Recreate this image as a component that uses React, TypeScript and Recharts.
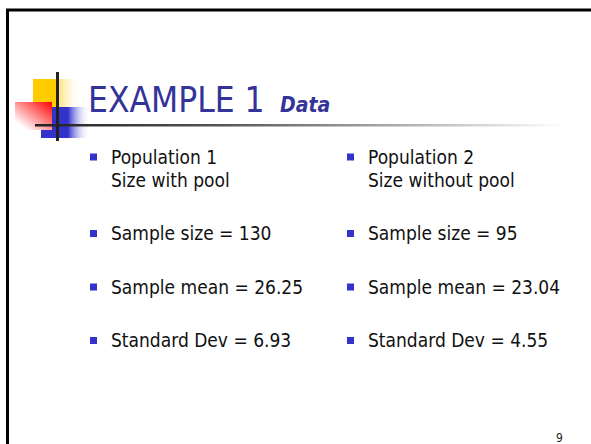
import { ScatterChart, Scatter, XAxis, YAxis, Customized } from "recharts";

const columns = [0, 1];
const populations = ["Population 1", "Population 2"];
const poolNotes = ["Size with pool", "Size without pool"];
const sampleSizes = [130, 95];
const sampleMeans = [26.25, 23.04];
const standardDevs = [6.93, 4.55];
const titleText = "EXAMPLE 1";
const subtitleText = "Data";
const pageNumber = "9";

const FONT = "Tahoma, 'DejaVu Sans Condensed', 'DejaVu Sans', sans-serif";
const LINE_H = 23;
const PARA_GAP = 53.5;

type Item = { col: number; pos: number; lines: string[] };

const buildItems = (): Item[] => {
  const items: Item[] = [];
  columns.forEach((c) => {
    const rows = [
      [populations[c], poolNotes[c]],
      [`Sample size = ${sampleSizes[c]}`],
      [`Sample mean = ${sampleMeans[c].toFixed(2)}`],
      [`Standard Dev = ${standardDevs[c].toFixed(2)}`],
    ];
    let pos = 0;
    rows.forEach((lines) => {
      items.push({ col: c, pos, lines });
      pos += (lines.length - 1) * LINE_H + PARA_GAP;
    });
  });
  return items;
};

const items = buildItems();
const maxPos = Math.max(...items.map((d) => d.pos));

const Bullet = (props: any) => {
  const { cx, cy, payload } = props;
  return (
    <g>
      <rect x={cx - 3.5} y={cy - 3.5} width={7} height={7} fill="#3333cc" />
      {payload.lines.map((t: string, i: number) => (
        <text key={i} x={cx + 17.5} y={cy + 6.5 + i * LINE_H} fontSize={19} fill="#111" fontFamily={FONT}>
          {t}
        </text>
      ))}
    </g>
  );
};

const Decoration = () => (
  <g>
    <defs>
      <linearGradient id="yel" x1="0" y1="0" x2="1" y2="0">
        <stop offset="0" stopColor="#ffcc00" />
        <stop offset="0.48" stopColor="#ffcc00" />
        <stop offset="0.52" stopColor="#ffe080" />
        <stop offset="1" stopColor="#ffffff" stopOpacity={0} />
      </linearGradient>
      <linearGradient id="blu" x1="0" y1="0" x2="1" y2="0">
        <stop offset="0" stopColor="#3333cc" />
        <stop offset="0.55" stopColor="#3333cc" />
        <stop offset="1" stopColor="#ffffff" stopOpacity={0} />
      </linearGradient>
      <linearGradient id="red" x1="1" y1="0" x2="0" y2="1">
        <stop offset="0" stopColor="#ff0000" />
        <stop offset="0.85" stopColor="#ffffff" />
        <stop offset="1" stopColor="#ffffff" />
      </linearGradient>
      <linearGradient id="rule" x1="0" y1="0" x2="1" y2="0">
        <stop offset="0" stopColor="#222222" />
        <stop offset="0.35" stopColor="#555555" />
        <stop offset="1" stopColor="#ffffff" />
      </linearGradient>
    </defs>
    <rect x={7.5} y={10} width={600} height={500} fill="none" stroke="#000" strokeWidth={3} />
    <rect x={33} y={79} width={49} height={28} fill="url(#yel)" />
    <rect x={41} y={107} width={49} height={31} fill="url(#blu)" />
    <rect x={15} y={102} width={37} height={28} fill="url(#red)" />
    <rect x={35} y={124} width={530} height={2.5} fill="url(#rule)" />
    <rect x={56} y={72} width={3} height={69} fill="#222" />
    <text x={88} y={112} fontSize={35} fill="#333399" fontFamily={FONT}>
      {titleText}
    </text>
    <text x={280} y={112} fontSize={21} fill="#333399" fontFamily={FONT} fontWeight="bold" fontStyle="italic">
      {subtitleText}
    </text>
    <text x={556} y={442} fontSize={12} fill="#222" fontFamily={FONT}>
      {pageNumber}
    </text>
  </g>
);

export default function App() {
  return (
    <div style={{ position: "absolute", left: 0, top: 0, width: 591, height: 444, overflow: "hidden", background: "#fff" }}>
      <ScatterChart width={591} height={444} margin={{ top: 157, right: 240.5, bottom: 444 - 157 - maxPos, left: 93.5 }}>
        <XAxis type="number" dataKey="col" domain={[0, 1]} hide />
        <YAxis type="number" dataKey="pos" domain={[0, maxPos]} reversed hide />
        <Customized component={Decoration} />
        <Scatter data={items} shape={Bullet} isAnimationActive={false} />
      </ScatterChart>
    </div>
  );
}
